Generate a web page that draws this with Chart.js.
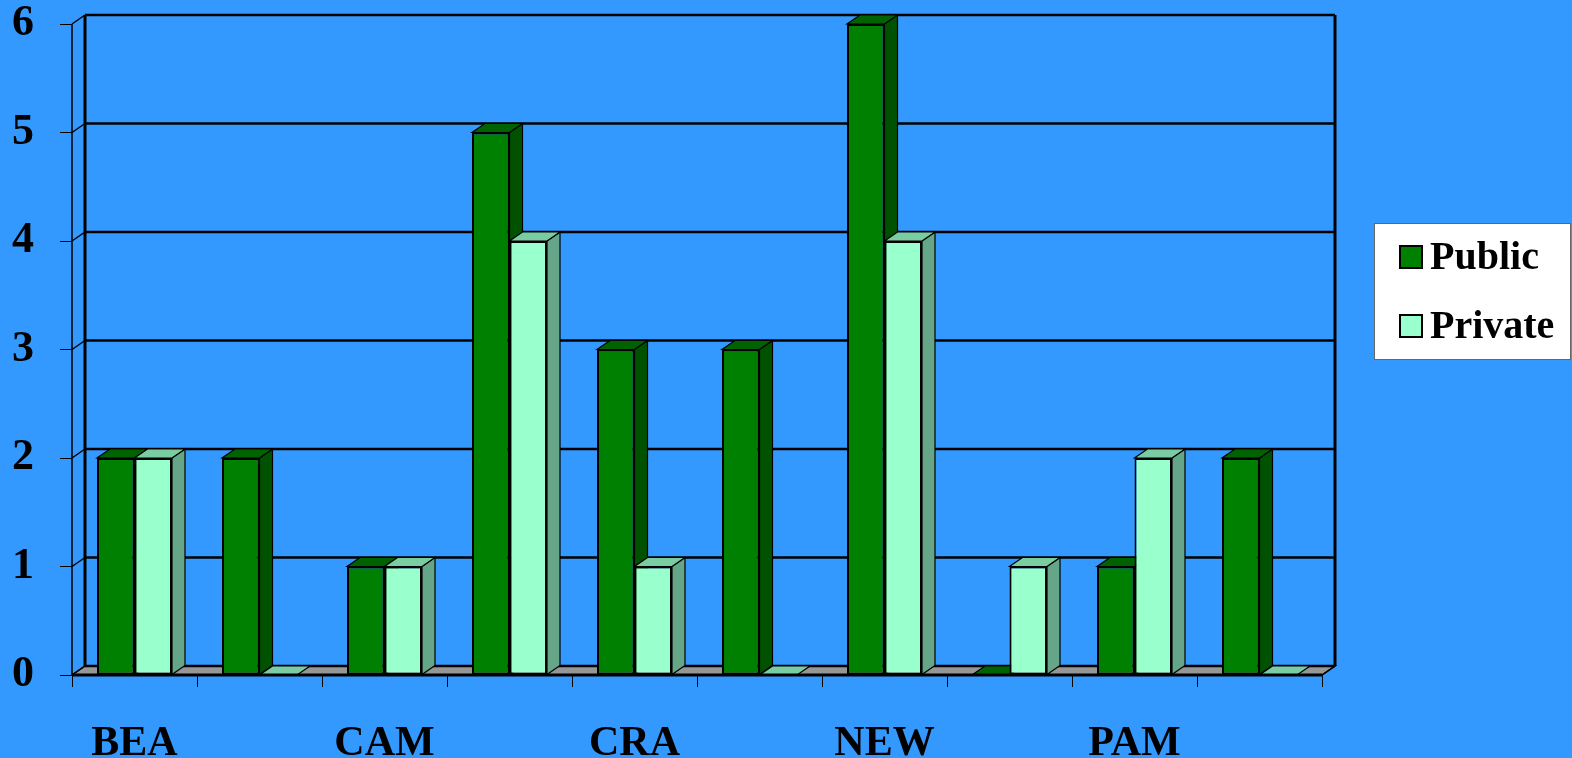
<!DOCTYPE html>
<html>
<head>
<meta charset="utf-8">
<script src="https://cdn.jsdelivr.net/npm/chart.js@4.4.1/dist/chart.umd.min.js"></script>
<style>
  html, body { margin: 0; padding: 0; background: #3399FF; }
  #wrap { width: 1572px; height: 758px; position: relative; }
</style>
</head>
<body>
<div id="wrap"><canvas id="c" width="1572" height="758"></canvas></div>
<script>
const categories = ['BEA', '', 'CAM', '', 'CRA', '', 'NEW', '', 'PAM', ''];
const publicValues = [2, 2, 1, 5, 3, 3, 6, 0, 1, 2];
const privateValues = [2, 0, 1, 4, 1, 0, 4, 1, 2, 0];
const yTickValues = [0, 1, 2, 3, 4, 5, 6];
const seriesNames = ['Public', 'Private'];

const FONT = "'Liberation Serif', 'Times New Roman', serif";
const DX = 13, DY = -9;
const FRONT = ['#008000', '#99FFCC'];
const TOP = ['#006200', '#7ACCA3'];
const SIDE = ['#005200', '#66A688'];
const FLOOR = '#969696';

const frame3d = {
  id: 'frame3d',
  beforeDatasetsDraw(chart) {
    const { ctx, chartArea: a, scales: { x, y } } = chart;
    const y0 = y.getPixelForValue(0);
    const yT = y.getPixelForValue(yTickValues[yTickValues.length - 1]);
    ctx.save();
    ctx.lineJoin = 'miter';
    // floor
    ctx.beginPath();
    ctx.moveTo(a.left, y0); ctx.lineTo(a.right, y0);
    ctx.lineTo(a.right + DX, y0 + DY); ctx.lineTo(a.left + DX, y0 + DY);
    ctx.closePath();
    ctx.fillStyle = FLOOR; ctx.fill();
    ctx.strokeStyle = '#000'; ctx.lineWidth = 1.5; ctx.stroke();
    // back grid lines + left wall connectors
    yTickValues.forEach(v => {
      const py = y.getPixelForValue(v);
      ctx.beginPath();
      ctx.moveTo(a.left + DX, py + DY); ctx.lineTo(a.right + DX, py + DY);
      ctx.lineWidth = 2.5; ctx.stroke();
      ctx.beginPath();
      ctx.moveTo(a.left, py); ctx.lineTo(a.left + DX, py + DY);
      ctx.lineWidth = 1.5; ctx.stroke();
    });
    // verticals
    ctx.beginPath(); ctx.moveTo(a.left, yT); ctx.lineTo(a.left, y0);
    ctx.lineWidth = 1.5; ctx.stroke();
    ctx.beginPath(); ctx.moveTo(a.left + DX, yT + DY); ctx.lineTo(a.left + DX, y0 + DY);
    ctx.lineWidth = 3; ctx.stroke();
    ctx.beginPath(); ctx.moveTo(a.right + DX, yT + DY); ctx.lineTo(a.right + DX, y0 + DY);
    ctx.lineWidth = 3; ctx.stroke();
    // bar extrusions (top + side), left to right
    const metas = chart.data.datasets.map((d, j) => chart.getDatasetMeta(j));
    for (let i = 0; i < categories.length; i++) {
      metas.forEach((meta, j) => {
        const el = meta.data[i];
        if (!el) return;
        const p = el.getProps(['x', 'y', 'base', 'width'], true);
        const l = p.x - p.width / 2, r = p.x + p.width / 2;
        const top = Math.min(p.y, p.base), bot = Math.max(p.y, p.base);
        ctx.lineWidth = 1.2; ctx.strokeStyle = '#000';
        if (bot - top > 0.5) {
          ctx.beginPath();
          ctx.moveTo(r, top); ctx.lineTo(r + DX, top + DY);
          ctx.lineTo(r + DX, bot + DY); ctx.lineTo(r, bot);
          ctx.closePath();
          ctx.fillStyle = SIDE[j]; ctx.fill(); ctx.stroke();
        }
        ctx.beginPath();
        ctx.moveTo(l, top); ctx.lineTo(r, top);
        ctx.lineTo(r + DX, top + DY); ctx.lineTo(l + DX, top + DY);
        ctx.closePath();
        ctx.fillStyle = TOP[j]; ctx.fill(); ctx.stroke();
      });
    }
    ctx.restore();
  },
  afterDatasetsDraw(chart) {
    const { ctx, chartArea: a, scales: { y } } = chart;
    const y0 = y.getPixelForValue(0);
    ctx.save();
    ctx.strokeStyle = '#000'; ctx.lineWidth = 3;
    ctx.beginPath(); ctx.moveTo(a.left, y0); ctx.lineTo(a.right, y0); ctx.stroke();
    ctx.beginPath(); ctx.moveTo(a.right, y0); ctx.lineTo(a.right + DX, y0 + DY);
    ctx.lineWidth = 1.5; ctx.stroke();
    ctx.restore();
  },
  afterDraw(chart) {
    const { ctx } = chart;
    ctx.save();
    const bx = 1374, by = 223, bw = 196, bh = 136;
    ctx.fillStyle = '#fff'; ctx.fillRect(bx, by, bw, bh);
    ctx.strokeStyle = '#666'; ctx.lineWidth = 1; ctx.strokeRect(bx + 0.5, by + 0.5, bw, bh);
    ctx.font = 'bold 40px ' + FONT;
    ctx.textBaseline = 'middle';
    ctx.textAlign = 'left';
    chart.data.datasets.forEach((d, j) => {
      const cy = 257 + j * 69;
      ctx.fillStyle = d.backgroundColor;
      ctx.fillRect(1400, cy - 11, 22, 22);
      ctx.strokeStyle = '#000'; ctx.lineWidth = 2;
      ctx.strokeRect(1400, cy - 11, 22, 22);
      ctx.fillStyle = '#000';
      ctx.fillText(d.label, 1430, cy + 2);
    });
    ctx.restore();
  }
};

new Chart(document.getElementById('c'), {
  type: 'bar',
  data: {
    labels: categories,
    datasets: [
      { label: seriesNames[0], data: publicValues, backgroundColor: FRONT[0] },
      { label: seriesNames[1], data: privateValues, backgroundColor: FRONT[1] }
    ]
  },
  options: {
    responsive: false,
    animation: false,
    events: [],
    layout: { padding: { top: 24, right: 250, left: 0, bottom: 0 } },
    datasets: {
      bar: {
        categoryPercentage: 0.6,
        barPercentage: 1.0,
        borderColor: '#000',
        borderWidth: 2,
        borderSkipped: false
      }
    },
    plugins: { legend: { display: false }, tooltip: { enabled: false } },
    scales: {
      x: {
        afterFit(s) { s.height = 83; s.paddingLeft = 0; s.paddingRight = 0; },
        border: { display: false },
        grid: { offset: true, drawOnChartArea: false, tickLength: 12, color: '#000', lineWidth: 1 },
        ticks: {
          autoSkip: false, maxRotation: 0, padding: 32,
          color: '#000', font: { family: FONT, size: 42, weight: 'bold' }
        }
      },
      y: {
        min: 0, max: 6,
        afterFit(s) { s.width = 72; s.paddingTop = 0; s.paddingBottom = 0; },
        border: { display: false },
        grid: { drawOnChartArea: false, tickLength: 12, color: '#000', lineWidth: 1 },
        afterBuildTicks(s) { s.ticks = yTickValues.map(v => ({ value: v })); },
        ticks: {
          padding: 26,
          color: '#000', font: { family: FONT, size: 44, weight: 'bold' }
        }
      }
    }
  },
  plugins: [frame3d]
});
</script>
</body>
</html>
